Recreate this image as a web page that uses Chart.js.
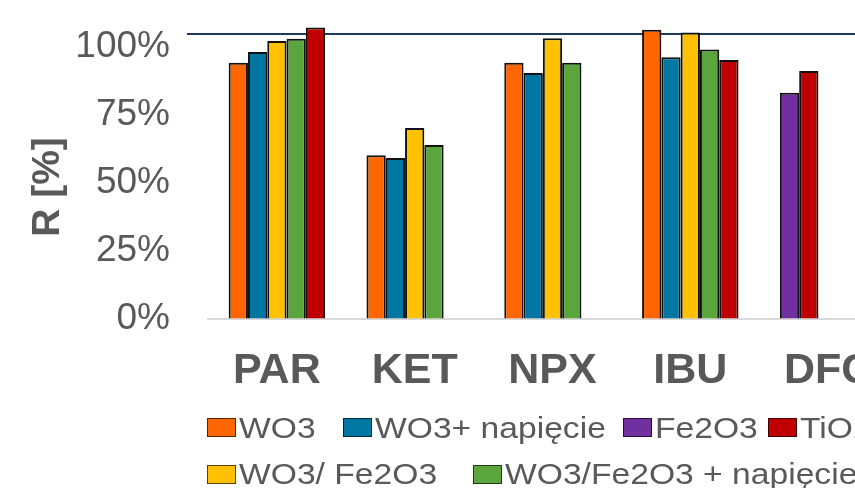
<!DOCTYPE html>
<html>
<head>
<meta charset="utf-8">
<script src="https://cdn.jsdelivr.net/npm/chart.js@4.4.1/dist/chart.umd.min.js"></script>
<style>
  html, body { margin: 0; padding: 0; background: #fff; overflow: hidden; width: 855px; height: 488px; }
  #wrap { position: relative; width: 910px; height: 488px; }
  #chart { position: absolute; left: 0; top: 0; }
  .lg { position: absolute; height: 30px; display: flex; align-items: center; white-space: nowrap;
        font-family: "Liberation Sans", Arial, sans-serif; font-size: 29.5px; color: #595959; }
  .lg .sw { width: 29px; height: 19px; box-sizing: border-box; border: 1px solid rgba(0,0,0,0.65); flex: none; }
  .lg .tx { margin-left: 3px; line-height: 30px; display: inline-block;
            transform: scaleX(1.14); transform-origin: left center; }
</style>
</head>
<body>
<div id="wrap">
  <canvas id="chart" width="910" height="488"></canvas>
  <div id="legend"></div>
</div>
<script>
// Compounds on the x axis
const CATEGORIES = ['PAR', 'KET', 'NPX', 'IBU', 'DFC'];

// Removal R [%] per catalyst / process, one value per compound (null = not measured)
const WO3                 = [94.2, 60.2, 94.2, 106.3, null];
const WO3_NAPIECIE        = [98.2, 59.2, 90.4, 96.2, null];
const FE2O3               = [null, null, null, null, 83.2];
const TIO2                = [107.2, null, null, 95.2, 91.2];
const WO3_FE2O3           = [102.2, 70.2, 103.2, 105.3, null];
const WO3_FE2O3_NAPIECIE  = [103.0, 64.0, 94.2, 99.1, null];

const SERIES_NAMES  = ['WO3', 'WO3+ napięcie', 'Fe2O3', 'TiO2', 'WO3/ Fe2O3', 'WO3/Fe2O3 + napięcie'];
const SERIES_VALUES = [WO3, WO3_NAPIECIE, FE2O3, TIO2, WO3_FE2O3, WO3_FE2O3_NAPIECIE];
const SERIES_COLORS = ['#FF6600', '#0077A3', '#7030A0', '#C00000', '#FFC000', '#5AA63C'];

// Order of the bars inside each compound group (indices into the series lists)
const BAR_ORDER = [0, 1, 2, 4, 5, 3];

// Y axis tick values (percent) and the horizontal rule drawn across the top
const Y_TICKS = [0, 25, 50, 75, 100];
const Y_MAX = 110;
const TOP_RULE_VALUE = 104.8;

const FONT = "'Liberation Sans', Arial, sans-serif";
const TEXT_GREY = '#595959';

// Each group is packed from the left: the n-th measured series of a compound goes in slot n
const slotCount = Math.max(...CATEGORIES.map((_, c) =>
  BAR_ORDER.filter(s => SERIES_VALUES[s][c] != null).length));
const slots = Array.from({ length: slotCount }, () => ({
  data: CATEGORIES.map(() => null),
  colors: CATEGORIES.map(() => 'rgba(0,0,0,0)')
}));
CATEGORIES.forEach((_, c) => {
  let k = 0;
  BAR_ORDER.forEach(s => {
    const v = SERIES_VALUES[s][c];
    if (v != null) {
      slots[k].data[c] = v;
      slots[k].colors[c] = SERIES_COLORS[s];
      k++;
    }
  });
});

// Dark rule across the top of the plot, drawn behind the bars
const topRule = {
  id: 'topRule',
  beforeDatasetsDraw(chart) {
    const { ctx, chartArea } = chart;
    const y = chart.scales.y.getPixelForValue(TOP_RULE_VALUE);
    ctx.save();
    ctx.strokeStyle = '#1F3A60';
    ctx.lineWidth = 2;
    ctx.beginPath();
    ctx.moveTo(chartArea.left - 21, y);
    ctx.lineTo(chart.width, y);
    ctx.stroke();
    ctx.restore();
  }
};

// Rotated y axis title
const yTitle = {
  id: 'yTitle',
  afterDraw(chart) {
    const { ctx } = chart;
    ctx.save();
    ctx.translate(48, 187);
    ctx.rotate(-Math.PI / 2);
    ctx.fillStyle = TEXT_GREY;
    ctx.font = 'bold 39px ' + FONT;
    ctx.textAlign = 'center';
    ctx.textBaseline = 'middle';
    ctx.fillText('R [%]', 0, 0);
    ctx.restore();
  }
};

Chart.defaults.font.family = FONT;

new Chart(document.getElementById('chart'), {
  type: 'bar',
  data: {
    labels: CATEGORIES,
    datasets: slots.map(s => ({
      data: s.data,
      backgroundColor: s.colors,
      borderColor: '#111111',
      borderWidth: 2,
      borderSkipped: 'bottom',
      categoryPercentage: 0.70,
      barPercentage: 1.0
    }))
  },
  options: {
    responsive: false,
    animation: false,
    devicePixelRatio: 1,
    layout: { autoPadding: false, padding: { top: 19.8, left: 0, right: 13, bottom: 0 } },
    plugins: { legend: { display: false }, tooltip: { enabled: false } },
    scales: {
      x: {
        grid: { display: false, drawTicks: false },
        border: { display: true, color: '#D9D9D9', width: 2 },
        ticks: { padding: 26, color: TEXT_GREY, font: { size: 43, weight: 'bold' } },
        afterFit(scale) { scale.height = 169; }
      },
      y: {
        min: 0,
        max: Y_MAX,
        afterBuildTicks(scale) { scale.ticks = Y_TICKS.map(v => ({ value: v })); },
        // invisible tick marks keep the labels clear of the plot
        grid: { display: true, drawOnChartArea: false, drawTicks: true, tickLength: 38,
                color: 'rgba(0,0,0,0)', tickColor: 'rgba(0,0,0,0)' },
        border: { display: false },
        ticks: { padding: 0, color: TEXT_GREY, font: { size: 37, lineHeight: 1 }, callback: v => v + '%' },
        afterFit(scale) { scale.width = 208; }
      }
    }
  },
  plugins: [topRule, yTitle]
});

// Legend, two rows under the axis
const LEGEND_SLOTS = [[207, 412.8], [343, 412.8], [623, 412.8], [768, 412.8], [207, 459.3], [473, 459.3]];
const legendEl = document.getElementById('legend');
SERIES_NAMES.forEach((name, i) => {
  const item = document.createElement('div');
  item.className = 'lg';
  item.style.left = LEGEND_SLOTS[i][0] + 'px';
  item.style.top = LEGEND_SLOTS[i][1] + 'px';
  const sw = document.createElement('span');
  sw.className = 'sw';
  sw.style.background = SERIES_COLORS[i];
  const tx = document.createElement('span');
  tx.className = 'tx';
  tx.textContent = name;
  item.appendChild(sw);
  item.appendChild(tx);
  legendEl.appendChild(item);
});
</script>
</body>
</html>
